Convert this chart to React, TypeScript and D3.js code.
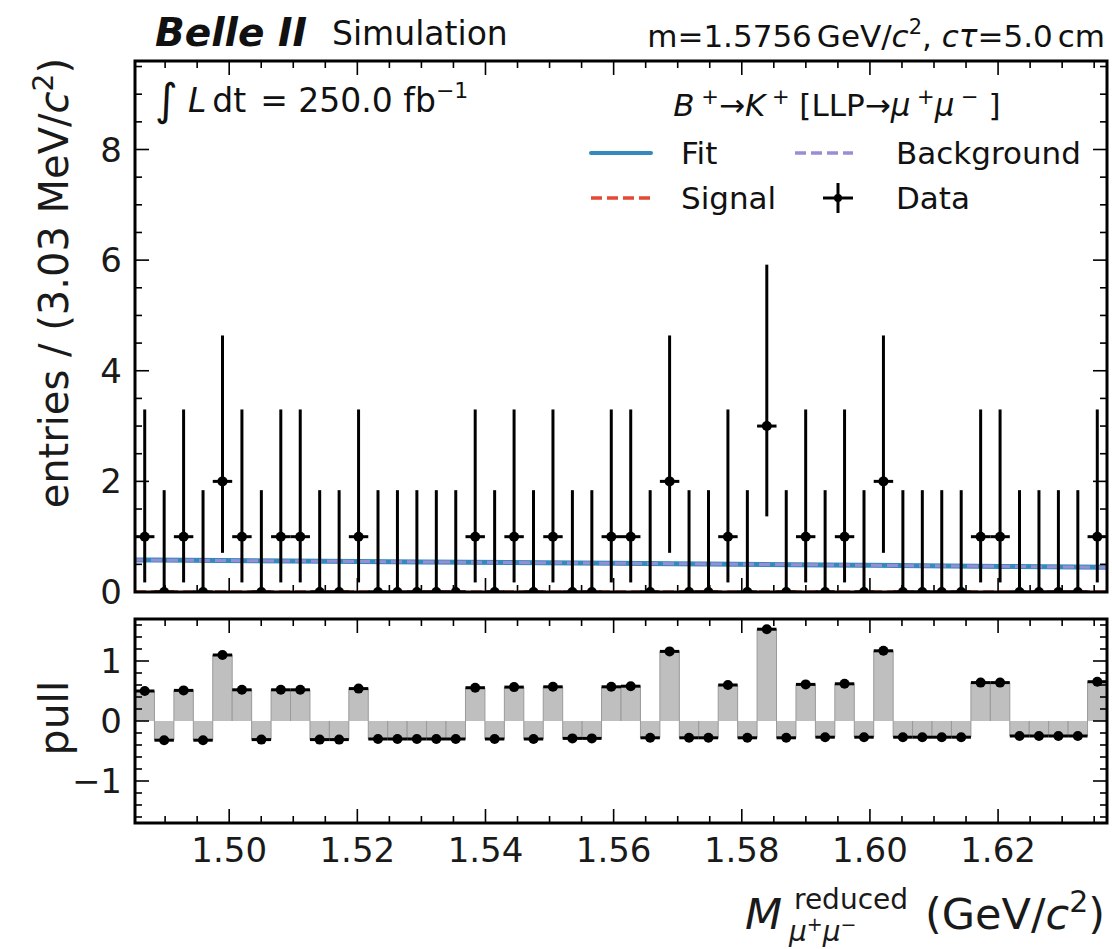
import React from 'react';
import * as d3 from 'd3';

const xMin = 1.4853;
const xMax = 1.637;
const counts = [1,0,1,0,2,1,0,1,1,0, 0,1,0,0,0,0,0,1,0,1, 0,1,0,0,1,1,0,2,0,0, 1,0,3,0,1,0,1,0,2,0, 0,0,0,1,1,0,0,0,0,1];
const poissonLow = [0, 0.827, 1.292, 1.633];
const poissonHigh = [1.841, 2.3, 2.638, 2.918];
const pulls = [0.50,-0.32,0.51,-0.32,1.10,0.52,-0.31,0.52,0.52,-0.31, -0.31,0.54,-0.30,-0.30,-0.30,-0.30,-0.30,0.555,-0.30,0.565, -0.30,0.57,-0.29,-0.29,0.57,0.58,-0.28,1.16,-0.28,-0.28, 0.60,-0.28,1.53,-0.28,0.61,-0.27,0.62,-0.27,1.17,-0.27, -0.27,-0.27,-0.27,0.64,0.64,-0.25,-0.25,-0.25,-0.25,0.655];
const fitX = [1.4853, 1.52, 1.56, 1.60, 1.637];
const fitY = [0.579, 0.552, 0.520, 0.483, 0.447];
const signalY = [0.004, 0.004, 0.004, 0.004, 0.004];
const xMajor = [1.50, 1.52, 1.54, 1.56, 1.58, 1.60, 1.62];
const yMajor = [0, 2, 4, 6, 8];
const pullMajor = [-1, 0, 1];

const L = 135, R = 1107, mainTop = 61, mainBot = 592, pullTop = 619, pullBot = 823;
const FONT = 'DejaVu Sans';
const C_FIT = '#348ABD', C_SIG = '#E24A33', C_BKG = '#988ED5';

export default function App() {
  const nBins = counts.length;
  const bw = (xMax - xMin) / nBins;
  const x = d3.scaleLinear().domain([xMin, xMax]).range([L, R]);
  const y = d3.scaleLinear().domain([0, 9.6]).range([mainBot, mainTop]);
  const yp = d3.scaleLinear().domain([-1.7, 1.7]).range([pullBot, pullTop]);
  const xMinor = d3.range(1.49, 1.6371, 0.005).map(v => Math.round(v * 1000) / 1000).filter(v => !xMajor.some(m => Math.abs(m - v) < 1e-6));
  const yMinor = d3.range(0.5, 9.6, 0.5).filter(v => v % 2 !== 0);
  const pMinor = d3.range(-1.6, 1.61, 0.2).map(v => Math.round(v * 10) / 10).filter(v => Math.abs(v - Math.round(v)) > 1e-6);
  const line = d3.line<number>().x((_, i) => x(fitX[i])).y(d => y(d)).curve(d3.curveMonotoneX);
  const bins = counts.map((n, i) => ({ n, lo: xMin + i * bw, hi: xMin + (i + 1) * bw, c: xMin + (i + 0.5) * bw, p: pulls[i] }));
  const ML = 14, mL = 7;

  const xTicks = (top: number, bot: number) => (
    <g stroke="#000" strokeWidth={1.6}>
      {xMajor.map(v => <g key={'M' + v}><line x1={x(v)} x2={x(v)} y1={bot} y2={bot - ML} /><line x1={x(v)} x2={x(v)} y1={top} y2={top + ML} /></g>)}
      {xMinor.map(v => <g key={'m' + v}><line x1={x(v)} x2={x(v)} y1={bot} y2={bot - mL} /><line x1={x(v)} x2={x(v)} y1={top} y2={top + mL} /></g>)}
    </g>
  );
  const yTicks = (sc: any, major: number[], minor: number[]) => (
    <g stroke="#000" strokeWidth={1.6}>
      {major.map(v => <g key={'M' + v}><line x1={L} x2={L + ML} y1={sc(v)} y2={sc(v)} /><line x1={R} x2={R - ML} y1={sc(v)} y2={sc(v)} /></g>)}
      {minor.map(v => <g key={'m' + v}><line x1={L} x2={L + mL} y1={sc(v)} y2={sc(v)} /><line x1={R} x2={R - mL} y1={sc(v)} y2={sc(v)} /></g>)}
    </g>
  );

  return (
    <svg width={1112} height={949} style={{ position: 'absolute', left: 0, top: 0, background: '#fff' }} fontFamily={FONT}>
      <defs>
        <clipPath id="mainClip"><rect x={L} y={mainTop} width={R - L} height={mainBot - mainTop} /></clipPath>
        <clipPath id="pullClip"><rect x={L} y={pullTop} width={R - L} height={pullBot - pullTop} /></clipPath>
      </defs>
      {/* Header */}
      <text x={155} y={46} fontSize={39} fontWeight="bold" fontStyle="italic" fill="#111">Belle II</text>
      <text x={332} y={45} fontSize={33} fill="#111">Simulation</text>
      <text x={1105} y={47} fontSize={31} textAnchor="end" fill="#111">
        m=1.5756<tspan dx={5}>GeV/</tspan><tspan fontStyle="italic">c</tspan><tspan fontSize={21} dy={-13}>2</tspan><tspan dy={13}>, </tspan><tspan fontStyle="italic">cτ</tspan>=5.0<tspan dx={5}>cm</tspan>
      </text>

      {/* Main panel */}
      <g clipPath="url(#mainClip)">
        <path d={line(signalY) || ''} fill="none" stroke={C_SIG} strokeWidth={3} strokeDasharray="11 5" />
        <path d={line(fitY) || ''} fill="none" stroke={C_FIT} strokeWidth={5} />
        <path d={line(fitY) || ''} fill="none" stroke={C_BKG} strokeWidth={3} strokeDasharray="11 5" />
        {bins.map((b, i) => (
          <g key={i} stroke="#000" strokeWidth={3}>
            <line x1={x(b.c)} x2={x(b.c)} y1={y(b.n - poissonLow[b.n])} y2={y(b.n + poissonHigh[b.n])} />
            <line x1={x(b.lo)} x2={x(b.hi)} y1={y(b.n)} y2={y(b.n)} />
            <circle cx={x(b.c)} cy={y(b.n)} r={5} fill="#000" stroke="none" />
          </g>
        ))}
      </g>
      {xTicks(mainTop, mainBot)}
      {yTicks(y, yMajor, yMinor)}
      <rect x={L} y={mainTop} width={R - L} height={mainBot - mainTop} fill="none" stroke="#000" strokeWidth={3} />
      {yMajor.map(v => <text key={v} x={122} y={y(v) + 12} fontSize={34} textAnchor="end" fill="#1a1a1a">{v}</text>)}
      <text transform={`translate(68,${mainTop - 3}) rotate(-90)`} fontSize={40} textAnchor="end" fill="#1a1a1a">
        entries / (3.03 MeV/<tspan fontStyle="italic">c</tspan><tspan fontSize={28} dy={-15}>2</tspan><tspan dy={15}>)</tspan>
      </text>

      {/* Integrated luminosity */}
      <text x={155} y={112} fontSize={33} fill="#111">
        <tspan fontSize={44} dy={3}>∫</tspan><tspan dy={-3} dx={10} fontStyle="italic">L</tspan><tspan dx={6}>dt</tspan><tspan dx={14}>= 250.0 fb</tspan><tspan fontSize={22} dy={-14}>−1</tspan>
      </text>

      {/* Legend */}
      <text x={837} y={116} fontSize={31} textAnchor="middle" fill="#111">
        <tspan fontStyle="italic">B</tspan><tspan fontSize={21} dy={-12}> +</tspan><tspan dy={12}>→</tspan><tspan fontStyle="italic">K</tspan><tspan fontSize={21} dy={-12}> +</tspan><tspan dy={12}> [LLP→</tspan><tspan fontStyle="italic">μ</tspan><tspan fontSize={21} dy={-12}> +</tspan><tspan dy={12} fontStyle="italic">μ</tspan><tspan fontSize={21} dy={-12}> −</tspan><tspan dy={12}> ]</tspan>
      </text>
      <line x1={591} x2={651} y1={153} y2={153} stroke={C_FIT} strokeWidth={4} strokeLinecap="round" />
      <text x={681} y={164} fontSize={31} fill="#111">Fit</text>
      <line x1={795} x2={853} y1={153} y2={153} stroke={C_BKG} strokeWidth={3.5} strokeDasharray="11 5" />
      <text x={896} y={164} fontSize={31} fill="#111">Background</text>
      <line x1={591} x2={651} y1={198} y2={198} stroke={C_SIG} strokeWidth={3.5} strokeDasharray="11 5" />
      <text x={681} y={209} fontSize={31} fill="#111">Signal</text>
      <g stroke="#000" strokeWidth={3}>
        <line x1={823} x2={853} y1={198} y2={198} />
        <line x1={838} x2={838} y1={183} y2={213} />
        <circle cx={838} cy={198} r={4} fill="#000" stroke="none" />
      </g>
      <text x={896} y={209} fontSize={31} fill="#111">Data</text>

      {/* Pull panel */}
      <g clipPath="url(#pullClip)">
        {bins.map((b, i) => (
          <g key={'b' + i}>
            <rect x={x(b.lo)} width={x(b.hi) - x(b.lo)} y={Math.min(yp(b.p), yp(0))} height={Math.abs(yp(b.p) - yp(0))} fill="#bfbfbf" />
            <line x1={x(b.lo)} x2={x(b.lo)} y1={yp(0)} y2={yp(b.p)} stroke="#9a9a9a" strokeWidth={1} />
            <line x1={x(b.hi)} x2={x(b.hi)} y1={yp(0)} y2={yp(b.p)} stroke="#9a9a9a" strokeWidth={1} />
          </g>
        ))}
        {bins.map((b, i) => (
          <g key={'p' + i} stroke="#000" strokeWidth={3}>
            <line x1={x(b.lo)} x2={x(b.hi)} y1={yp(b.p)} y2={yp(b.p)} />
            <circle cx={x(b.c)} cy={yp(b.p)} r={5} fill="#000" stroke="none" />
          </g>
        ))}
      </g>
      {xTicks(pullTop, pullBot)}
      {yTicks(yp, pullMajor, pMinor)}
      <rect x={L} y={pullTop} width={R - L} height={pullBot - pullTop} fill="none" stroke="#000" strokeWidth={3} />
      {pullMajor.map(v => <text key={v} x={122} y={yp(v) + 12} fontSize={34} textAnchor="end" fill="#1a1a1a">{v < 0 ? '−' + Math.abs(v) : v}</text>)}
      <text transform={`translate(68,${(pullTop + pullBot) / 2 - 3}) rotate(-90)`} fontSize={41} textAnchor="middle" fill="#1a1a1a">pull</text>
      {xMajor.map(v => <text key={v} x={x(v)} y={862} fontSize={34} textAnchor="middle" fill="#1a1a1a">{v.toFixed(2)}</text>)}

      {/* X label */}
      <text x={745} y={929} fontSize={43} fontStyle="italic" fill="#1a1a1a">M</text>
      <text x={794} y={909} fontSize={28} fill="#1a1a1a">reduced</text>
      <text x={789} y={941} fontSize={28} fontStyle="italic" fill="#1a1a1a">
        μ<tspan fontSize={19} fontStyle="normal" dy={-10}>+</tspan><tspan dy={10}>μ</tspan><tspan fontSize={19} fontStyle="normal" dy={-10}>−</tspan>
      </text>
      <text x={1105} y={929} fontSize={43} textAnchor="end" fill="#1a1a1a">
        (GeV/<tspan fontStyle="italic">c</tspan><tspan fontSize={30} dy={-17}>2</tspan><tspan dy={17}>)</tspan>
      </text>
    </svg>
  );
}
